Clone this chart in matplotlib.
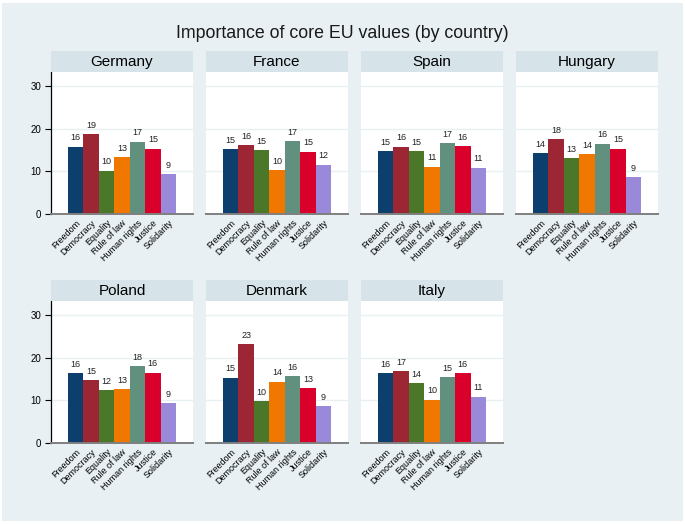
import matplotlib.pyplot as plt
from matplotlib.patches import Rectangle

# Data: share of respondents naming each value
values = ['Freedom', 'Democracy', 'Equality', 'Rule of law', 'Human rights', 'Justice', 'Solidarity']
countries = ['Germany', 'France', 'Spain', 'Hungary', 'Poland', 'Denmark', 'Italy']

germany = [15.8, 18.8, 10.2, 13.4, 17.0, 15.3, 9.4]
france = [15.2, 16.2, 14.9, 10.3, 17.1, 14.6, 11.6]
spain = [14.8, 15.8, 14.7, 11.1, 16.6, 15.9, 10.9]
hungary = [14.3, 17.6, 13.1, 14.1, 16.5, 15.3, 8.7]
poland = [16.4, 14.7, 12.4, 12.6, 18.1, 16.5, 9.4]
denmark = [15.3, 23.1, 9.9, 14.4, 15.7, 12.9, 8.7]
italy = [16.3, 16.9, 14.0, 10.2, 15.4, 16.4, 10.9]
data = [germany, france, spain, hungary, poland, denmark, italy]

colors = ['#0c3f6e', '#9c2633', '#4a7828', '#f07800', '#62907f', '#d9002b', '#9a88d8']
bg = '#e8f0f3'
strip_col = '#d6e4ea'

plt.rcParams['font.family'] = ['Liberation Sans', 'DejaVu Sans']

W, H = 685, 524
fig = plt.figure(figsize=(W / 100, H / 100), dpi=100, facecolor='white')
fig.patches.append(Rectangle((2 / W, 3 / H), (W - 4) / W, (H - 6) / H,
                             transform=fig.transFigure, facecolor=bg, edgecolor='none', zorder=-1))

fig.text(0.5, 1 - 33 / H, 'Importance of core EU values (by country)', ha='center', va='center',
         fontsize=12.8, color='#1a1a1a')

col_x = [51, 206, 361, 516]
row_y = [(51, 72, 214), (280, 301, 443)]  # strip top, strip bottom / plot top, plot bottom
pw = 142

for i, (country, vals) in enumerate(zip(countries, data)):
    r, c = divmod(i, 4)
    st, pt, pb = row_y[r]
    x0 = col_x[c]
    ax = fig.add_axes([x0 / W, 1 - pb / H, pw / W, (pb - pt) / H])
    sax = fig.add_axes([x0 / W, 1 - pt / H, pw / W, (pt - st) / H])
    sax.set_facecolor(strip_col)
    sax.set_xticks([])
    sax.set_yticks([])
    for s in sax.spines.values():
        s.set_visible(False)
    sax.text(0.5, 0.47, country, ha='center', va='center', fontsize=11, transform=sax.transAxes)

    xs = range(len(values))
    ax.bar(xs, vals, width=1.0, color=colors, linewidth=0, zorder=2)
    for x, v in zip(xs, vals):
        ax.text(x, v + 1.0, f'{v:.0f}', ha='center', va='bottom', fontsize=6.5, color='#222222')
    ax.set_xlim(-1.6, 7.6)
    ax.set_ylim(0, 33.3)
    for y in [10, 20, 30]:
        ax.axhline(y, color=bg, lw=1.0, zorder=1)
    ax.set_xticks(list(xs))
    ax.set_xticklabels(values, rotation=45, ha='right', rotation_mode='anchor', fontsize=6.5)
    ax.tick_params(axis='x', length=0, pad=3)
    ax.spines['top'].set_visible(False)
    ax.spines['right'].set_visible(False)
    ax.spines['bottom'].set_color('#7f7f7f')
    ax.spines['bottom'].set_linewidth(1.4)
    if c == 0:
        ax.set_yticks([0, 10, 20, 30])
        ax.tick_params(axis='y', length=4, width=0.8, labelsize=7, pad=3)
        ax.spines['left'].set_linewidth(0.9)
    else:
        ax.set_yticks([])
        ax.spines['left'].set_visible(False)

fig.savefig('out.png', dpi=100, facecolor='white')
